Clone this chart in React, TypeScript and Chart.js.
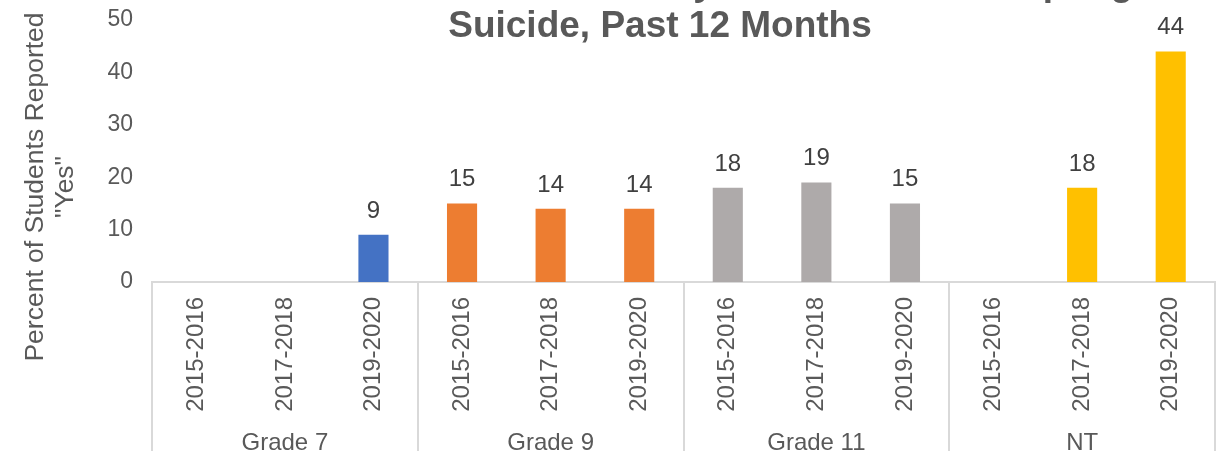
import React, { useEffect, useRef } from "react";
import { Chart, registerables } from "chart.js";

Chart.register(...registerables);

const titleLines = [
  "Percent of Students Who Seriously Considered Attempting",
  "Suicide, Past 12 Months",
];
const yTitleLines = ["Percent of Students Reported", '"Yes"'];
const groups = ["Grade 7", "Grade 9", "Grade 11", "NT"];
const years = ["2015-2016", "2017-2018", "2019-2020"];
const grade7 = [null, null, 9];
const grade9 = [15, 14, 14];
const grade11 = [18, 19, 15];
const nt = [null, 18, 44];
const groupColors = ["#4472C4", "#ED7D31", "#AEAAAA", "#FFC000"];
const yTicks = [0, 10, 20, 30, 40, 50];

const FONT = "'Liberation Sans', Arial, sans-serif";

export default function App() {
  const ref = useRef<HTMLCanvasElement | null>(null);

  useEffect(() => {
    const canvas = ref.current;
    if (!canvas) return;
    const series = [grade7, grade9, grade11, nt];
    const labels: string[] = [];
    const values: (number | null)[] = [];
    const colors: string[] = [];
    series.forEach((s, gi) => {
      s.forEach((v, yi) => {
        labels.push(years[yi]);
        values.push(v);
        colors.push(groupColors[gi]);
      });
    });

    const overlay = {
      id: "overlay",
      afterDraw(chart: any) {
        const ctx = chart.ctx as CanvasRenderingContext2D;
        const x = chart.scales.x;
        const area = chart.chartArea;
        ctx.save();
        // title
        ctx.fillStyle = "#595959";
        ctx.font = `bold 37px ${FONT}`;
        ctx.textAlign = "center";
        ctx.textBaseline = "alphabetic";
        ctx.fillText(titleLines[0], 615, -5);
        ctx.fillText(titleLines[1], 660, 37);

        // y axis title
        ctx.font = `26.5px ${FONT}`;
        ctx.textBaseline = "middle";
        const yCenters = [36, 66];
        yTitleLines.forEach((t, i) => {
          ctx.save();
          ctx.translate(yCenters[i], 187);
          ctx.rotate(-Math.PI / 2);
          ctx.fillText(t, 0, 0);
          ctx.restore();
        });

        // group dividers and labels
        const step = x.getPixelForValue(1) - x.getPixelForValue(0);
        ctx.strokeStyle = "#D9D9D9";
        ctx.lineWidth = 2;
        for (let g = 0; g <= groups.length; g++) {
          const px = Math.round(x.getPixelForValue(g * 3) - step / 2);
          ctx.beginPath();
          ctx.moveTo(px, area.bottom);
          ctx.lineTo(px, chart.height + 5);
          ctx.stroke();
        }
        ctx.font = `24px ${FONT}`;
        ctx.fillStyle = "#595959";
        ctx.textBaseline = "alphabetic";
        groups.forEach((g, gi) => {
          const cx = x.getPixelForValue(gi * 3 + 1);
          ctx.fillText(g, cx, 450);
        });

        // data labels
        const meta = chart.getDatasetMeta(0);
        ctx.fillStyle = "#404040";
        ctx.font = `24px ${FONT}`;
        meta.data.forEach((bar: any, i: number) => {
          const v = values[i];
          if (v === null || v === undefined) return;
          ctx.fillText(String(v), bar.x, bar.y - 17);
        });
        ctx.restore();
      },
    };

    const chart = new Chart(canvas, {
      type: "bar",
      data: {
        labels,
        datasets: [
          {
            data: values as any,
            backgroundColor: colors,
            borderWidth: 0,
            categoryPercentage: 1,
            barPercentage: 0.34,
          },
        ],
      },
      options: {
        animation: false,
        responsive: false,
        maintainAspectRatio: false,
        layout: { padding: { top: 20, right: 5, left: 0, bottom: 0 } },
        plugins: {
          legend: { display: false },
          title: { display: false },
          tooltip: { enabled: false },
        },
        scales: {
          x: {
            grid: { display: false, drawTicks: false },
            border: { display: true, color: "#D9D9D9", width: 2 },
            ticks: {
              autoSkip: false,
              minRotation: 90,
              maxRotation: 90,
              padding: 15,
              color: "#595959",
              font: { family: FONT, size: 24 },
            },
            afterFit(scale: any) {
              scale.height = 169;
            },
          },
          y: {
            min: yTicks[0],
            max: yTicks[yTicks.length - 1],
            afterBuildTicks(scale: any) {
              scale.ticks = yTicks.map((v) => ({ value: v }));
            },
            grid: { display: false, drawTicks: false },
            border: { display: false },
            ticks: {
              padding: 19,
              color: "#595959",
              font: { family: FONT, size: 23 },
            },
            afterFit(scale: any) {
              scale.width = 152;
              scale.paddingTop = 0;
              scale.paddingBottom = 0;
            },
          },
        },
      },
      plugins: [overlay],
    });
    return () => chart.destroy();
  }, []);

  return (
    <div style={{ position: "fixed", left: 0, top: 0, width: 1220, height: 451 }}>
      <canvas ref={ref} width={1220} height={451} style={{ width: 1220, height: 451, display: "block" }} />
    </div>
  );
}
